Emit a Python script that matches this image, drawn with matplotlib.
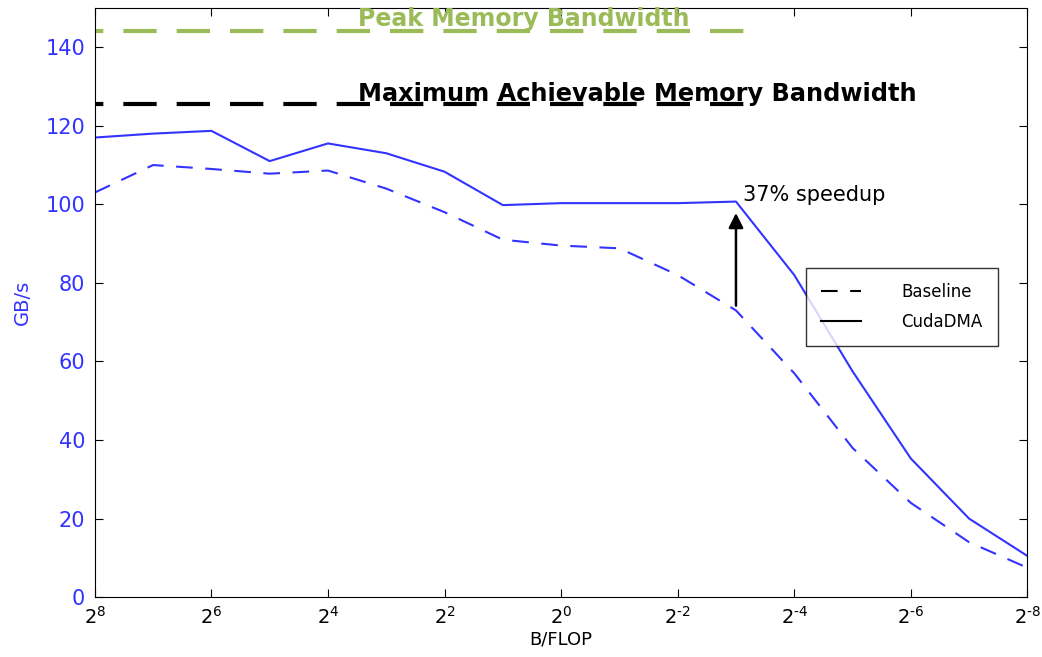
import numpy as np
import matplotlib
matplotlib.use('Agg')
import matplotlib.pyplot as plt

exps = np.arange(8, -9, -1)
x = 2.0 ** exps
cudadma = [117, 118, 118.7, 111, 115.5, 113, 108.3, 99.8, 100.3, 100.3, 100.3, 100.7,
           82, 57.5, 35.3, 20, 10.5]
baseline = [103, 110, 109, 107.8, 108.6, 104, 98, 91, 89.5, 88.8, 82, 73,
            57, 38, 24, 14, 7.5]
peak_bw = 144
max_bw = 125.5
xtick_exps = [8, 6, 4, 2, 0, -2, -4, -6, -8]

blue = '#3333ff'
green = '#9bbb59'

fig = plt.figure(figsize=(10.42, 6.57), dpi=100)
ax = fig.add_axes([0.091, 0.091, 0.895, 0.897])

ax.plot(x, baseline, color=blue, lw=1.5, ls=(0, (8, 6)), label='Baseline')
ax.plot(x, cudadma, color=blue, lw=1.5, label='CudaDMA')

# bandwidth limit lines
ax.plot([2.0 ** 8, 2.0 ** -3.2], [peak_bw, peak_bw], color=green, lw=3, ls=(6, (8, 4.8)))
ax.plot([2.0 ** 8, 2.0 ** -3.2], [max_bw, max_bw], color='black', lw=3, ls=(6, (8, 4.8)))
ax.text(2.0 ** 3.48, peak_bw + 1.4, 'Peak Memory Bandwidth', color=green, fontsize=17,
        fontweight='bold', ha='left', va='baseline')
ax.text(2.0 ** 3.48, max_bw + 0.7, 'Maximum Achievable Memory Bandwidth', color='black',
        fontsize=17.3, fontweight='bold', ha='left', va='baseline')

ax.annotate('', xy=(2.0 ** -3, 98.5), xytext=(2.0 ** -3, 73.5),
            arrowprops=dict(arrowstyle='-|>', color='black', lw=1.8, mutation_scale=22))
ax.text(2.0 ** -3.12, 102.5, '37% speedup', fontsize=15, ha='left', va='center')

ax.set_xscale('log', base=2)
ax.set_xlim(2.0 ** 8, 2.0 ** -8)
ax.set_ylim(0, 150)
ax.set_xticks([2.0 ** e for e in xtick_exps])
ax.set_xticklabels(['$2^{\\text{%d}}$' % e for e in xtick_exps], fontsize=14)
ax.minorticks_off()
ax.set_yticks(range(0, 141, 20))
ax.tick_params(axis='both', direction='in', top=True, right=True, length=6)
ax.tick_params(axis='x', pad=6)
ax.tick_params(axis='y', labelcolor=blue, labelsize=15, pad=7)
ax.set_xlabel('B/FLOP', fontsize=13, labelpad=2)
ax.set_ylabel('GB/s', color=blue, fontsize=14, labelpad=10)

leg = ax.legend(loc='upper left', bbox_to_anchor=(0.763, 0.559), borderaxespad=0,
                fontsize=12, handlelength=2.4, borderpad=0.9, labelspacing=0.75,
                handletextpad=2.4, fancybox=False, frameon=True)
leg.get_frame().set_edgecolor('black')
for h in leg.legend_handles:
    h.set_color('black')

fig.savefig('out.png', dpi=100)
